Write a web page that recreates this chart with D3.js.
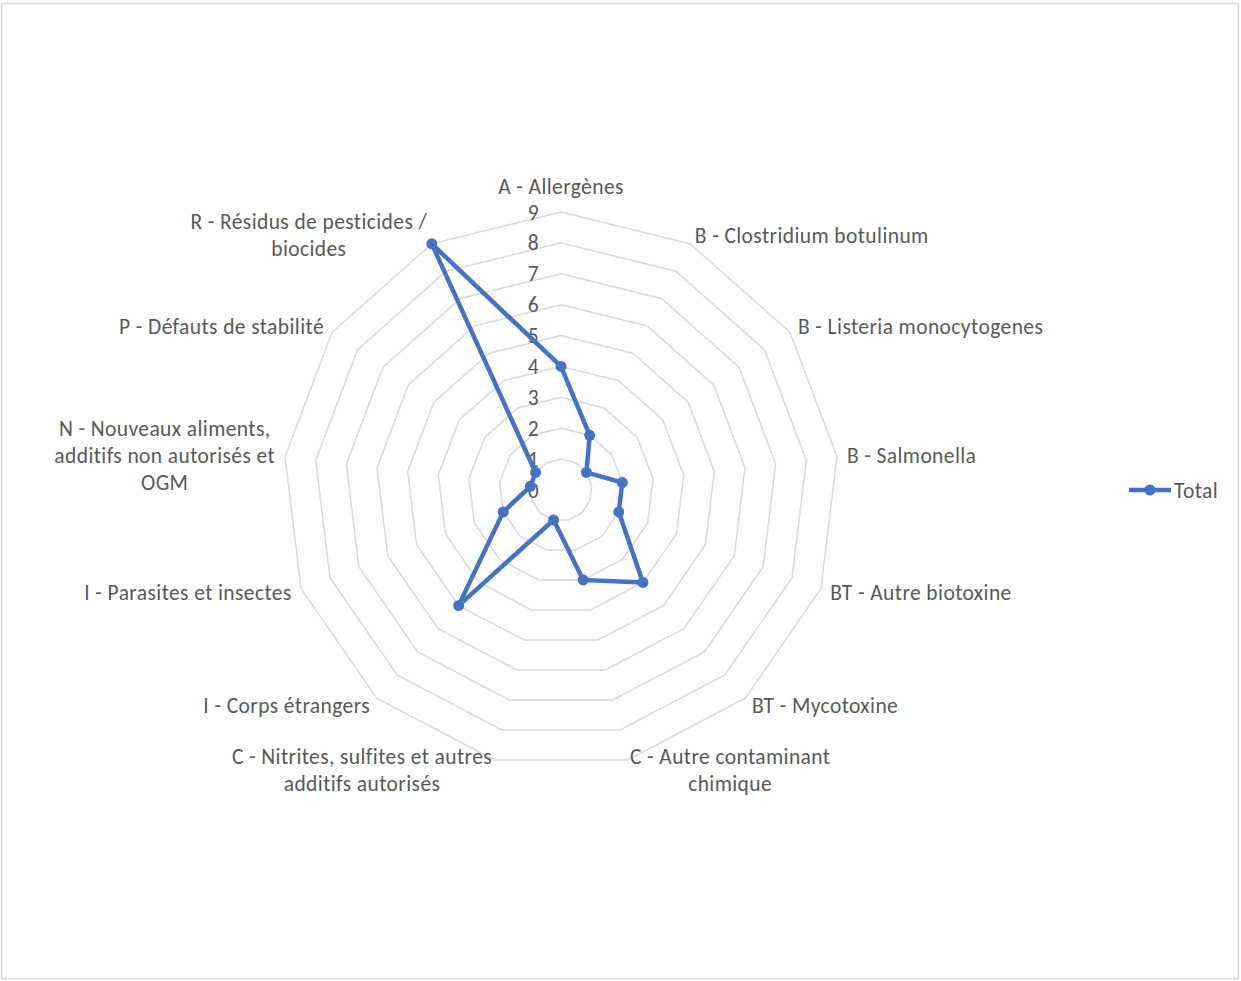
<!DOCTYPE html>
<html>
<head>
<meta charset="utf-8">
<script src="https://cdn.jsdelivr.net/npm/d3@7"></script>
<style>
  body { margin: 0; background: #fff; }
  svg { display: block; }
  text { letter-spacing: 0.4px; }
</style>
</head>
<body>
<div id="chart"></div>
<script>
// categories (label lines, as wrapped in the chart)
const categories = [
  ["A - Allergènes"],
  ["B - Clostridium botulinum"],
  ["B - Listeria monocytogenes"],
  ["B - Salmonella"],
  ["BT - Autre biotoxine"],
  ["BT - Mycotoxine"],
  ["C - Autre contaminant", "chimique"],
  ["C - Nitrites, sulfites et autres", "additifs autorisés"],
  ["I - Corps étrangers"],
  ["I - Parasites et insectes"],
  ["N - Nouveaux aliments,", "additifs non autorisés et", "OGM"],
  ["P - Défauts de stabilité"],
  ["R - Résidus de pesticides /", "biocides"]
];
const totals = [4, 2, 1, 2, 2, 4, 3, 1, 5, 2, 1, 1, 9];
const ticks = [0, 1, 2, 3, 4, 5, 6, 7, 8, 9];
const seriesName = "Total";

const width = 1241, height = 981;
const cx = 561, cy = 490, radius = 278;
const font = "Carlito, Calibri, Lato, sans-serif";
const fsize = 21.5;
const txtColor = "#595959";
const lineColor = "#4472C4";

const svg = d3.select("#chart").append("svg").attr("width", width).attr("height", height);

// cadre
svg.append("rect")
  .attr("x", 1.5).attr("y", 3.5).attr("width", 1237).attr("height", 975)
  .attr("fill", "#fff").attr("stroke", "#d9d9d9").attr("stroke-width", 1.5);

const n = categories.length;
const angle = d3.scaleLinear().domain([0, n]).range([0, 2 * Math.PI]);
const r = d3.scaleLinear().domain([0, 9]).range([0, radius]);

const g = svg.append("g").attr("transform", `translate(${cx},${cy})`);

function pt(i, v) {
  const a = angle(i);
  return [r(v) * Math.sin(a), -r(v) * Math.cos(a)];
}

// grid rings
g.selectAll(".ring")
  .data(ticks.filter(t => t > 0))
  .enter().append("polygon")
  .attr("points", t => d3.range(n).map(i => pt(i, t).join(",")).join(" "))
  .attr("fill", "none")
  .attr("stroke", "#d9d9d9")
  .attr("stroke-width", 1.5);

// tick labels
g.selectAll(".tick")
  .data(ticks)
  .enter().append("text")
  .attr("x", -22)
  .attr("y", t => -r(t))
  .attr("dy", "0.35em")
  .attr("text-anchor", "end")
  .attr("font-family", font)
  .attr("font-size", fsize)
  .attr("fill", txtColor)
  .text(t => t);

// category labels : bloc centré, collé au sommet extérieur
const lineH = 27;
categories.forEach((lines, i) => {
  const a = angle(i);
  const s = Math.sin(a), c = Math.cos(a);
  const px = (radius + 10) * s, py = -(radius + 10) * c;
  const h = lines.length * lineH;
  let top = py - h / 2;
  if (Math.abs(s) < 0.1) top -= c * h / 2 + 2;
  const t = g.append("text")
    .attr("text-anchor", "middle")
    .attr("font-family", font)
    .attr("font-size", fsize)
    .attr("fill", txtColor);
  const spans = lines.map((l, k) => t.append("tspan")
    .attr("y", top + lineH * k + lineH / 2)
    .attr("dy", "0.35em")
    .text(l));
  const w = d3.max(spans, sp => sp.node().getComputedTextLength());
  let x = px;
  if (s > 0.1) x = px + w / 2;
  else if (s < -0.1) x = px - w / 2;
  spans.forEach(sp => sp.attr("x", x));
});

// data line
const line = d3.line().curve(d3.curveLinearClosed);
g.append("path")
  .attr("d", line(totals.map((v, i) => pt(i, v))))
  .attr("fill", "none")
  .attr("stroke", lineColor)
  .attr("stroke-width", 4.5)
  .attr("stroke-linejoin", "round");

g.selectAll(".dot")
  .data(totals)
  .enter().append("circle")
  .attr("cx", (v, i) => pt(i, v)[0])
  .attr("cy", (v, i) => pt(i, v)[1])
  .attr("r", 5.5)
  .attr("fill", lineColor);

// legend
const lg = svg.append("g").attr("transform", "translate(1129,490)");
lg.append("line").attr("x1", 0).attr("x2", 42).attr("y1", 0).attr("y2", 0)
  .attr("stroke", lineColor).attr("stroke-width", 4.5);
lg.append("circle").attr("cx", 21).attr("cy", 0).attr("r", 5.5).attr("fill", lineColor);
lg.append("text").attr("x", 45).attr("y", 0).attr("dy", "0.35em")
  .attr("font-family", font).attr("font-size", fsize).attr("fill", txtColor)
  .text(seriesName);
</script>
</body>
</html>
